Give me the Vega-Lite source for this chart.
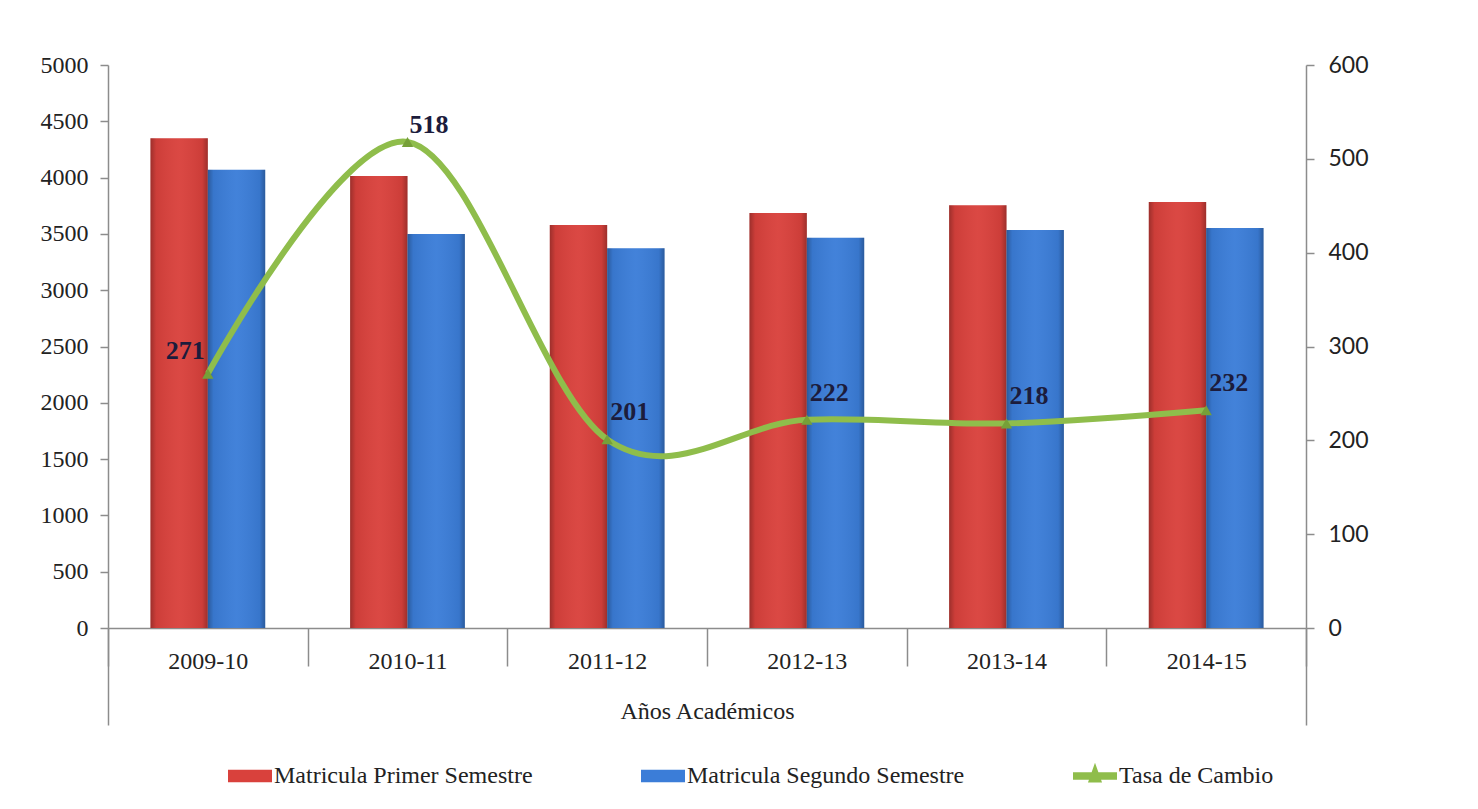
{
  "$schema": "https://vega.github.io/schema/vega-lite/v6.json",
  "width": 1198,
  "height": 563,
  "autosize": "none",
  "padding": {"left": 108, "top": 65, "right": 172, "bottom": 181},
  "background": "white",
  "config": {"view": {"stroke": null}, "font": "Liberation Serif"},
  "datasets": {
    "matricula": [
      {"anio": "2009-10", "serie": "Matricula Primer Semestre", "valor": 4350},
      {"anio": "2009-10", "serie": "Matricula Segundo Semestre", "valor": 4070},
      {"anio": "2010-11", "serie": "Matricula Primer Semestre", "valor": 4015},
      {"anio": "2010-11", "serie": "Matricula Segundo Semestre", "valor": 3500},
      {"anio": "2011-12", "serie": "Matricula Primer Semestre", "valor": 3578},
      {"anio": "2011-12", "serie": "Matricula Segundo Semestre", "valor": 3372},
      {"anio": "2012-13", "serie": "Matricula Primer Semestre", "valor": 3686},
      {"anio": "2012-13", "serie": "Matricula Segundo Semestre", "valor": 3465},
      {"anio": "2013-14", "serie": "Matricula Primer Semestre", "valor": 3755},
      {"anio": "2013-14", "serie": "Matricula Segundo Semestre", "valor": 3535},
      {"anio": "2014-15", "serie": "Matricula Primer Semestre", "valor": 3783},
      {"anio": "2014-15", "serie": "Matricula Segundo Semestre", "valor": 3552}
    ],
    "tasa": [
      {"anio": "2009-10", "tasa": 271},
      {"anio": "2010-11", "tasa": 518},
      {"anio": "2011-12", "tasa": 201},
      {"anio": "2012-13", "tasa": 222},
      {"anio": "2013-14", "tasa": 218},
      {"anio": "2014-15", "tasa": 232}
    ],
    "marco": [{"e": "marco"}]
  },
  "layer": [
    {
      "layer": [
        {
          "data": {"name": "matricula"},
          "layer": [
            {
              "mark": {"type": "bar"},
              "encoding": {
                "x": {
                  "field": "anio", "type": "nominal", "sort": null,
                  "scale": {"type": "band", "paddingInner": 0, "paddingOuter": 0},
                  "axis": {
                    "title": "Años Académicos", "labelAngle": 0, "tickBand": "extent", "tickSize": 38,
                    "labelPadding": -17, "labelFont": "Liberation Serif", "labelFontSize": 24, "labelColor": "#222222",
                    "titleFont": "Liberation Serif", "titleFontSize": 24, "titleFontWeight": "normal", "titleColor": "#222222",
                    "titlePadding": 26, "domainColor": "#8c8c8c", "tickColor": "#8c8c8c", "domainWidth": 1.5, "tickWidth": 1.5
                  }
                },
                "xOffset": {"field": "serie", "type": "nominal", "sort": null, "scale": {"paddingInner": 0, "paddingOuter": 0.74}},
                "y": {
                  "field": "valor", "type": "quantitative", "scale": {"domain": [0, 5000]},
                  "axis": {
                    "title": null, "grid": false, "format": "d", "values": [0, 500, 1000, 1500, 2000, 2500, 3000, 3500, 4000, 4500, 5000],
                    "labelFont": "Liberation Serif", "labelFontSize": 24, "labelColor": "#222222",
                    "domainColor": "#8c8c8c", "tickColor": "#8c8c8c", "tickSize": 8, "labelPadding": 12, "domainWidth": 1.5, "tickWidth": 1.5
                  }
                },
                "color": {
                  "field": "serie", "type": "nominal",
                  "scale": {
                    "domain": ["Matricula Primer Semestre", "Matricula Segundo Semestre", "Tasa de Cambio"],
                    "range": ["#d9413c", "#3b7dd8", "#8fbd4b"]
                  },
                  "legend": {
                    "orient": "none", "legendX": 120, "legendY": 689, "direction": "horizontal", "columns": 3,
                    "title": null, "labelFont": "Liberation Serif", "labelFontSize": 24, "labelColor": "#222222",
                    "symbolSize": 1936, "columnPadding": 108, "labelOffset": 2, "symbolStrokeWidth": 0, "labelLimit": 400,
                    "encode": {
                      "symbols": {
                        "update": {
                          "shape": {"signal": "datum.value === 'Tasa de Cambio' ? 'M-1,-0.17H1V0.17H-1Z M0,-0.6L0.32,0.3H-0.32Z' : 'M-1,-0.28H1V0.28H-1Z'"},
                          "fill": {"scale": "color", "field": "value"},
                          "stroke": {"value": "transparent"},
                          "opacity": {"value": 1}
                        }
                      }
                    }
                  }
                }
              }
            },
            {
              "mark": {
                "type": "bar",
                "fill": {
                  "gradient": "linear", "x1": 0, "x2": 1, "y1": 0, "y2": 0,
                  "stops": [
                    {"offset": 0, "color": "rgba(0,0,0,0.28)"},
                    {"offset": 0.1, "color": "rgba(0,0,0,0.06)"},
                    {"offset": 0.5, "color": "rgba(255,255,255,0.04)"},
                    {"offset": 0.9, "color": "rgba(0,0,0,0.06)"},
                    {"offset": 1, "color": "rgba(0,0,0,0.28)"}
                  ]
                }
              },
              "encoding": {
                "x": {"field": "anio", "type": "nominal", "sort": null},
                "xOffset": {"field": "serie", "type": "nominal", "sort": null},
                "y": {"field": "valor", "type": "quantitative"}
              }
            }
          ]
        },
        {
          "data": {"name": "tasa"},
          "layer": [
            {
              "mark": {"type": "line", "interpolate": "cardinal", "strokeWidth": 6},
              "encoding": {
                "x": {"field": "anio", "type": "nominal", "sort": null},
                "y": {
                  "field": "tasa", "type": "quantitative", "scale": {"domain": [0, 600]},
                  "axis": {
                    "orient": "right", "title": null, "grid": false, "values": [0, 100, 200, 300, 400, 500, 600],
                    "labelFont": "Lato", "labelFontSize": 23, "labelColor": "#222222",
                    "domainColor": "#8c8c8c", "tickColor": "#8c8c8c", "tickSize": 8, "labelPadding": 14, "domainWidth": 1.5, "tickWidth": 1.5
                  }
                },
                "color": {"datum": "Tasa de Cambio"}
              }
            },
            {
              "mark": {"type": "point", "shape": "triangle-up", "filled": true, "size": 130, "color": "#76a038", "opacity": 1},
              "encoding": {
                "x": {"field": "anio", "type": "nominal", "sort": null},
                "y": {"field": "tasa", "type": "quantitative"}
              }
            },
            {
              "transform": [{"filter": "datum.anio === '2009-10'"}],
              "mark": {"type": "text", "align": "right", "baseline": "middle", "dx": -3, "dy": -23, "font": "Liberation Serif", "fontSize": 26, "fontWeight": "bold", "color": "#1c1c3c"},
              "encoding": {
                "x": {"field": "anio", "type": "nominal", "sort": null},
                "y": {"field": "tasa", "type": "quantitative"},
                "text": {"field": "tasa", "type": "quantitative"}
              }
            },
            {
              "transform": [{"filter": "datum.anio === '2010-11'"}],
              "mark": {"type": "text", "align": "left", "baseline": "middle", "dx": 2, "dy": -17, "font": "Liberation Serif", "fontSize": 26, "fontWeight": "bold", "color": "#1c1c3c"},
              "encoding": {
                "x": {"field": "anio", "type": "nominal", "sort": null},
                "y": {"field": "tasa", "type": "quantitative"},
                "text": {"field": "tasa", "type": "quantitative"}
              }
            },
            {
              "transform": [{"filter": "datum.anio !== '2009-10' && datum.anio !== '2010-11'"}],
              "mark": {"type": "text", "align": "left", "baseline": "middle", "dx": 3, "dy": -27, "font": "Liberation Serif", "fontSize": 26, "fontWeight": "bold", "color": "#1c1c3c"},
              "encoding": {
                "x": {"field": "anio", "type": "nominal", "sort": null},
                "y": {"field": "tasa", "type": "quantitative"},
                "text": {"field": "tasa", "type": "quantitative"}
              }
            }
          ]
        }
      ],
      "resolve": {"scale": {"y": "independent"}}
    },
    {
      "data": {"name": "marco"},
      "mark": {"type": "point", "opacity": 0},
      "encoding": {
        "x": {
          "field": "e", "type": "nominal",
          "scale": {"type": "band", "paddingInner": 0, "paddingOuter": 0},
          "axis": {"orient": "bottom", "labels": false, "domain": false, "title": null, "tickBand": "extent", "tickSize": 97, "tickColor": "#8c8c8c", "tickWidth": 1.5}
        }
      }
    }
  ],
  "resolve": {"scale": {"x": "independent", "y": "independent"}}
}
